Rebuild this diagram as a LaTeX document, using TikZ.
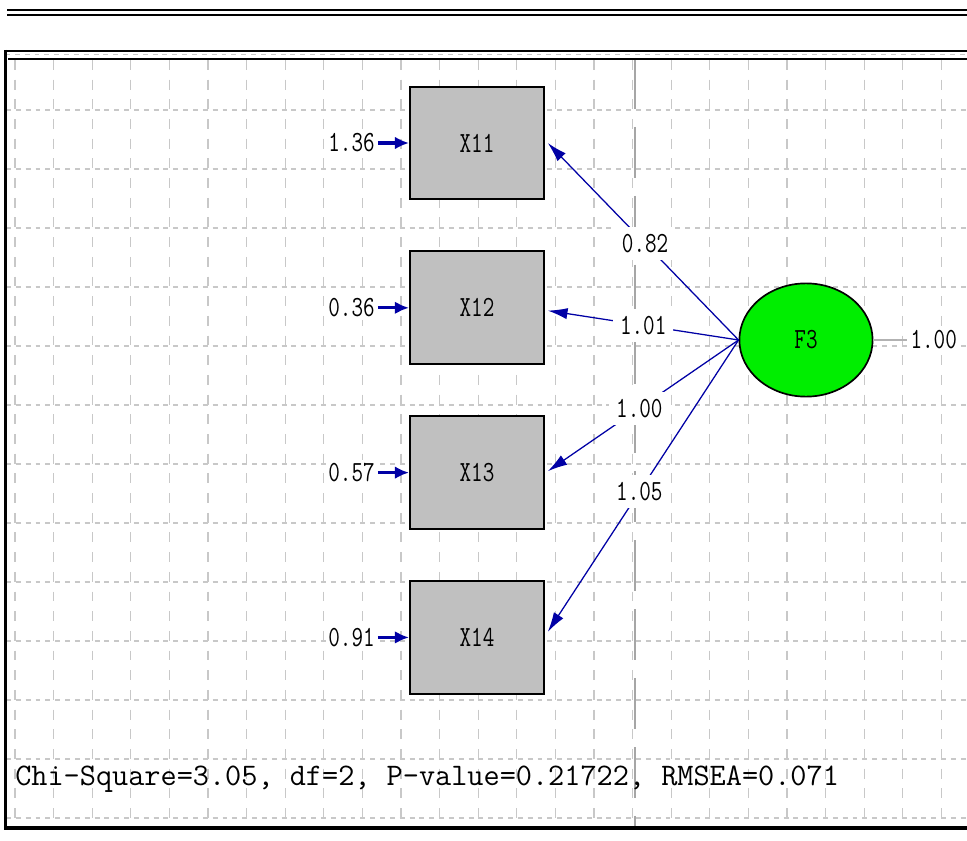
\documentclass[tikz,border=0pt]{standalone}
\usetikzlibrary{positioning,arrows.meta,shapes.geometric}
\definecolor{lisblue}{RGB}{0,0,165}
\definecolor{gridgray}{RGB}{200,200,200}
\definecolor{boxgray}{RGB}{192,192,192}
\definecolor{latgreen}{RGB}{0,238,0}
\newcommand{\tall}[1]{\scalebox{1}[1.3]{#1}}

\begin{document}
\begin{tikzpicture}[x=0.025cm, y=-0.025cm,
  >={Latex[length=14pt,width=8pt]},
  obs/.style={draw, fill=boxgray, line width=1.4pt, minimum width=3.35cm,
    minimum height=2.82cm, font=\fontsize{16}{16}\ttfamily},
  lat/.style={ellipse, draw, fill=latgreen, line width=1.2pt, inner sep=0pt,
    minimum width=3.33cm, minimum height=2.83cm, font=\fontsize{16}{16}\ttfamily},
  num/.style={font=\fontsize{16}{16}\ttfamily, text=black, inner sep=2pt, fill=white},
  lnum/.style={num, inner sep=5pt},
  err/.style={-{Latex[length=10pt,width=9pt]}, lisblue, line width=2.2pt},
  load/.style={->, lisblue, line width=0.9pt},
  gridv/.style={gridgray, line width=0.8pt, dash pattern=on 7pt off 7pt},
  gridh/.style={gridgray, line width=0.8pt, dash pattern=on 3.5pt off 3.5pt},
  node distance=1.25cm]
\useasboundingbox[fill=white] (0,0) rectangle (967,841);
% title rules
\draw[line width=1.5pt] (7,10) -- (967,10);
\draw[line width=1.9pt] (7,15) -- (967,15);
% grid
\foreach \k in {0,...,24}
  \draw[gridv] ({15+38.6*\k},60) -- ({15+38.6*\k},827);
\foreach \k in {0,...,12}
  \draw[gridh] (6,{110+59*\k}) -- (967,{110+59*\k});
\draw[gray!70, line width=0.8pt, dash pattern=on 36pt off 13pt] (635,58) -- (635,827);
% frame
\draw[line width=1.5pt] (5,51) -- (967,51);
\draw[gridgray, line width=0.8pt, dash pattern=on 3.5pt off 3.5pt] (5,54.5) -- (967,54.5);
\draw[line width=1.5pt] (8,59) -- (967,59);
\draw[line width=1.8pt] (5.5,50) -- (5.5,829);
\draw[line width=2.2pt] (4,828) -- (967,828);

\node[obs] (x11) at (477,143) {\tall{X11}};
\node[obs, below=of x11] (x12) {\tall{X12}};
\node[obs, below=of x12] (x13) {\tall{X13}};
\node[obs, below=of x13] (x14) {\tall{X14}};
\node[lat] (f3) at (806,340) {\tall{F3}};

\node[num, left=0.78cm of x11] (e11) {\tall{1.36}};
\node[num, left=0.78cm of x12] (e12) {\tall{0.36}};
\node[num, left=0.78cm of x13] (e13) {\tall{0.57}};
\node[num, left=0.78cm of x14] (e14) {\tall{0.91}};
\node[num, right=0.85cm of f3] (v3) {\tall{1.00}};

\foreach \e/\x in {e11/x11, e12/x12, e13/x13, e14/x14}
  \draw[err] (\e) -- (\x);
\draw[gray!60, line width=0.8pt] (f3) -- (v3);

\draw[load] (f3.west) -- node[lnum, pos=0.49] {\tall{0.82}} ([xshift=2pt]x11.east);
\draw[load] (f3.west) -- node[lnum, pos=0.5] {\tall{1.01}} ([xshift=2pt,yshift=-2pt]x12.east);
\draw[load] (f3.west) -- node[lnum, pos=0.52] {\tall{1.00}} ([xshift=2pt,yshift=1pt]x13.east);
\draw[load] (f3.west) -- node[lnum, pos=0.52] {\tall{1.05}} ([xshift=2pt,yshift=4pt]x14.east);

\node[anchor=base west, inner sep=0pt, font=\fontsize{22.3}{23}\ttfamily] (fit) at (15,785)
  {Chi-Square=3.05, df=2, P-value=0.21722, RMSEA=0.071};
\end{tikzpicture}
\end{document}
